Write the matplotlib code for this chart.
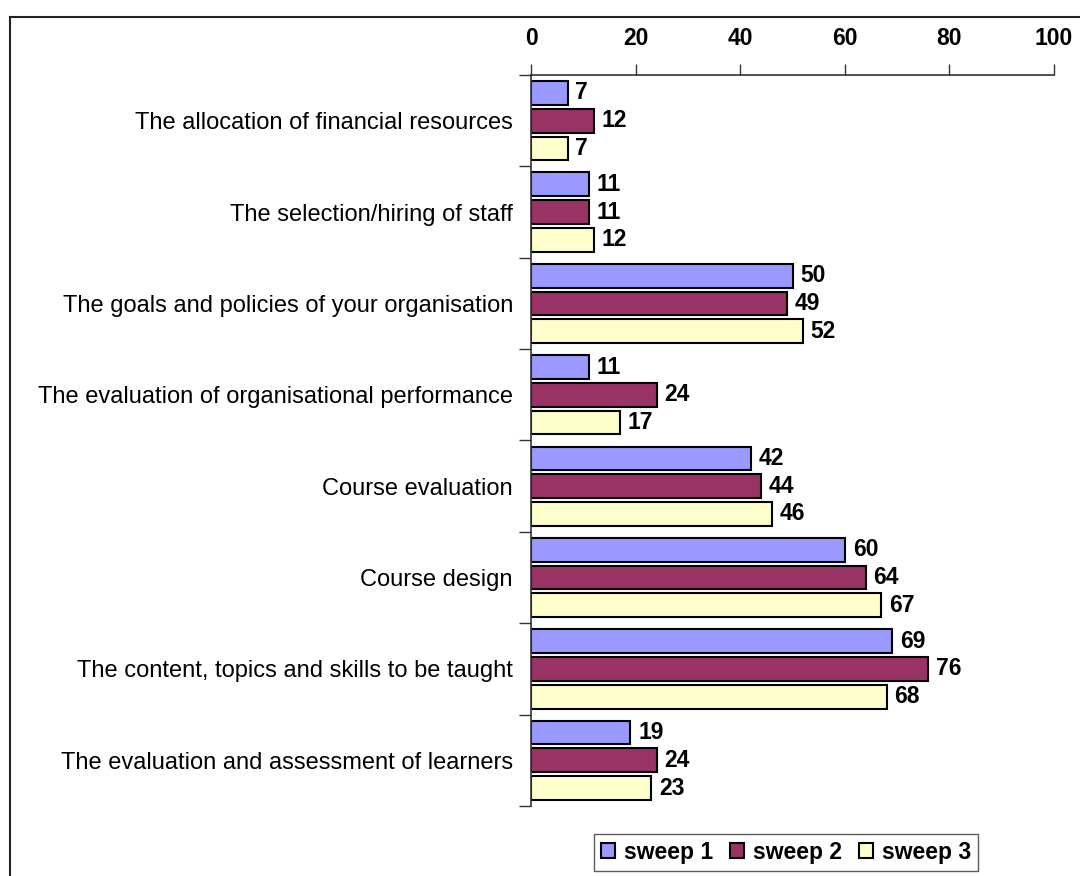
import matplotlib.pyplot as plt
import numpy as np
from matplotlib.lines import Line2D

plt.rcParams['font.family'] = ['Liberation Sans', 'DejaVu Sans']

categories = ["The allocation of financial resources",
              "The selection/hiring of staff",
              "The goals and policies of your organisation",
              "The evaluation of organisational performance",
              "Course evaluation",
              "Course design",
              "The content, topics and skills to be taught",
              "The evaluation and assessment of learners"]
sweep1 = [7, 11, 50, 11, 42, 60, 69, 19]
sweep2 = [12, 11, 49, 24, 44, 64, 76, 24]
sweep3 = [7, 12, 52, 17, 46, 67, 68, 23]
series_names = ["sweep 1", "sweep 2", "sweep 3"]
colors = ["#9999FF", "#993366", "#FFFFCC"]

fig = plt.figure(figsize=(10.8, 8.76), dpi=100)
ax = fig.add_axes([0.4917, 0.0799, 0.4842, 0.8345])

y = np.arange(len(categories))
step = 0.304
h = 0.26
for k, (vals, name, c) in enumerate(zip([sweep1, sweep2, sweep3], series_names, colors)):
    pos = y + (k - 1) * step
    ax.barh(pos, vals, height=h, color=c, edgecolor="black", linewidth=1.5, label=name)
    for p, v in zip(pos, vals):
        ax.text(v + 1.5, p, str(v), va="center", ha="left", fontsize=16.5, fontweight="bold")

ax.set_xlim(0, 100)
ax.set_ylim(len(categories) - 0.5, -0.5)
ax.xaxis.tick_top()
ax.set_xticks(np.arange(0, 101, 20))
ax.set_xticklabels([str(t) for t in range(0, 101, 20)], fontsize=16.5, fontweight="bold")
ax.tick_params(axis="x", direction="out", length=8, width=1, pad=10, color="#333333")

ax.set_yticks(y)
ax.set_yticklabels(categories, fontsize=17)
ax.set_yticks(np.arange(-0.5, len(categories)), minor=True)
ax.tick_params(axis="y", which="major", length=0, pad=13)
ax.tick_params(axis="y", which="minor", length=9, width=1, direction="out", color="#333333")

for s in ["right", "bottom"]:
    ax.spines[s].set_visible(False)
for s in ["left", "top"]:
    ax.spines[s].set_color("#333333")
    ax.spines[s].set_linewidth(1.2)

leg = fig.legend(loc="center", bbox_to_anchor=(0.728, 0.027), ncol=3,
                 prop={"size": 16.5, "weight": "bold"}, frameon=True, fancybox=False,
                 handlelength=0.6, handleheight=0.6, handletextpad=0.4,
                 columnspacing=0.75, borderpad=0.3)
leg.get_frame().set_edgecolor("#333333")
leg.get_frame().set_linewidth(1.0)
for patch in leg.get_patches():
    patch.set_linewidth(1.5)

# outer chart border (left and top visible)
x0 = 10 / 1080
y0 = 1 - 17 / 876
fig.add_artist(Line2D([x0, 1.0], [y0, y0], transform=fig.transFigure, color="#222222", lw=1.5))
fig.add_artist(Line2D([x0, x0], [0.0, y0], transform=fig.transFigure, color="#222222", lw=1.5))

fig.savefig("out.png", dpi=100)
